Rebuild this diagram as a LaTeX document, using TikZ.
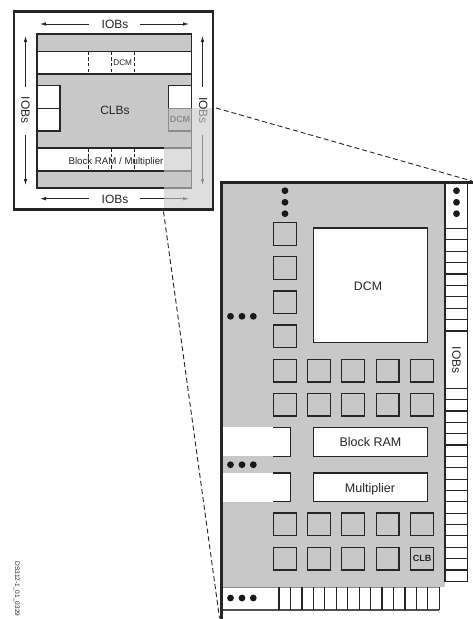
\documentclass[tikz,border=0pt]{standalone}
\usepackage{fontspec}
\setmainfont{Liberation Sans}
\usetikzlibrary{arrows.meta}
\definecolor{core}{HTML}{C8C8C8}
\definecolor{fade}{HTML}{DEDEDE}
\definecolor{ink}{HTML}{262626}
\definecolor{faded}{HTML}{8C8C8C}
\tikzset{
  txt/.style={inner sep=0pt,text=ink,font=\fontsize{#1}{#1}\selectfont},
  txt/.default=12,
  heavy/.style={draw=ink,line width=2.8pt},
  edge/.style={draw=ink,line width=1.2pt},
  fadeedge/.style={draw=faded,line width=1.2pt},
  lightbox/.style={edge,fill=white},
  clbbox/.style={draw=ink,line width=1.2pt,fill=core,inner sep=0pt,minimum size=22.7pt},
  dotmark/.style={fill=black!90,circle,inner sep=0pt,minimum size=6.8pt},
  arrowdark/.style={draw=ink,line width=.8pt,-{Latex[length=6pt,width=3.6pt]}},
  arrowfade/.style={draw=faded,line width=.8pt,-{Latex[length=6pt,width=3.6pt]}},
  zoomline/.style={draw=ink,line width=.9pt,dash pattern=on 5pt off 3pt},
}
\begin{document}
\begin{tikzpicture}[x=1pt,y=-1pt]
\useasboundingbox (0,0) rectangle (473,619);
\fill[white] (0,0) rectangle (473,619);
% --- overview ---
\fill[white] (14,11.5) rectangle (214,210.5);
\path[fill=core,edge] (37,34) rectangle (191.5,188);
\path[lightbox] (37,51.5) rectangle (191.5,74);
\path[lightbox] (37,148) rectangle (191.5,171);
\path[lightbox] (37,85.5) rectangle (60,108.5);
\path[lightbox] (37,108.5) rectangle (60,131);
\path[lightbox] (168.5,85.5) rectangle (191.5,108.5);
\foreach \x in {88.5,111.5,134}{
  \draw[ink,line width=1pt,dash pattern=on 3.5pt off 2.2pt] (\x,51.5) -- (\x,74);
  \draw[ink,line width=1pt,dash pattern=on 3.5pt off 2.2pt] (\x,148) -- (\x,171);
}
% highlighted, faded corner
\fill[fade] (191.5,107.5) rectangle (213,209.5);
\fill[fade] (164,188) rectangle (213,209.5);
\fill[fade] (164,148) rectangle (191.5,171);
\path[fill=core,fadeedge] (168.5,108.5) rectangle (191.5,131);
\draw[fadeedge] (191.5,108) -- (191.5,188.5) (164,188) -- (191.5,188)
  (164,148) -- (191.5,148) (164,171) -- (191.5,171);
\draw[heavy,line join=miter] (164,209.7) -- (14,209.7) -- (14,11.5) -- (213,11.5) -- (213,209.7) -- (164,209.7);
% labels
\node[txt] (iobtop) at (115,24) {IOBs};
\node[txt] (iobbot) at (115,199) {IOBs};
\node[txt,rotate=-90] (iobleft) at (25.5,110) {IOBs};
\node[txt,rotate=-90] (iobright) at (203.3,110.5) {IO\textcolor{faded}{Bs}};
\node[txt] (clbs) at (115,110) {CLBs};
\node[txt=8.2] (dcmtop) at (122.7,63) {DCM};
\node[txt=9,text=faded,font=\fontsize{9}{9}\selectfont\bfseries] (dcmfaded) at (180,119.5) {DCM};
\node[txt=9.7] (brammult) at (116,161.5) {Block RAM / Multiplier};
% arrows
\coordinate (a1) at (89,24); \coordinate (a2) at (40,24);
\coordinate (a3) at (140,24); \coordinate (a4) at (189,24);
\coordinate (b1) at (89,198.7); \coordinate (b2) at (40,198.7);
\coordinate (b3) at (140,198.7); \coordinate (b3m) at (164,198.7); \coordinate (b4) at (189,198.7);
\coordinate (c1) at (25.5,87); \coordinate (c2) at (25.5,36);
\coordinate (c3) at (25.5,135); \coordinate (c4) at (25.5,185);
\coordinate (d1) at (202.5,87); \coordinate (d2) at (202.5,36);
\coordinate (d3) at (202.5,135); \coordinate (d4) at (202.5,185);
\draw[arrowdark] (a1) -- (a2);
\draw[arrowdark] (a3) -- (a4);
\draw[arrowdark] (b1) -- (b2);
\draw[draw=ink,line width=.8pt] (b3) -- (b3m);
\draw[arrowfade] (b3m) -- (b4);
\draw[arrowdark] (c1) -- (c2);
\draw[arrowdark] (c3) -- (c4);
\draw[arrowdark] (d1) -- (d2);
\draw[arrowfade] (d3) -- (d4);
% zoom lines
\coordinate (z1) at (216,108); \coordinate (z2) at (472,181);
\coordinate (z3) at (163.5,211.5); \coordinate (z4) at (219.5,618);
\draw[zoomline] (z1) -- (z2);
\draw[zoomline] (z3) -- (z4);
% --- detail ---
\fill[core] (222,182.5) rectangle (444.5,586.8);
% right IOB column
\path[lightbox] (445,182.5) rectangle (467.5,581.3);
\foreach \i in {0,...,9}{ \draw[edge] (445,{228.3+\i*11.41}) -- (467.5,{228.3+\i*11.41}); }
\foreach \i in {0,...,17}{ \draw[edge] (445,{388.3+\i*11.35}) -- (467.5,{388.3+\i*11.35}); }
\node[txt,rotate=-90] (iobdetail) at (456.5,360) {IOBs};
% bottom IOB row
\fill[white] (223,587.3) rectangle (439.3,610);
\draw[fadeedge] (223,587.3) -- (439.3,587.3);
\draw[edge,draw=ink!80] (223,610) -- (439.3,610);
\foreach \i in {0,...,14}{ \draw[edge] ({279+\i*11.45},587.3) -- ({279+\i*11.45},610); }
% squares
\foreach \yy/\rr in {222.3/a,256.3/b,290.7/c,324.7/d}{
  \node[clbbox] (sq\rr) at (284.85,\yy+11.6) {};
}
\foreach \yy/\rr in {359/e,393/f,512.7/g,547/h}{
  \foreach \xx/\cc in {273/1,307.3/2,341.3/3,375.7/4,410.3/5}{
    \node[clbbox] (sq\rr\cc) at (\xx+11.85,\yy+11.6) {};
  }
}
\node[txt=9,font=\fontsize{9}{9}\selectfont\bfseries] (clblabel) at (sqh5) {CLB};
% DCM, RAM, multiplier
\path[lightbox] (313.3,228) rectangle (427.7,342.3);
\node[txt=12.3] (dcmdetail) at (368,286.7) {DCM};
\path[lightbox] (313.3,427.3) rectangle (427.7,456.3);
\node[txt=12.5] (bramlabel) at (370.5,441.7) {Block RAM};
\path[lightbox] (313.3,473) rectangle (427.7,501.7);
\node[txt=12.5] (multlabel) at (370,489) {Multiplier};
% partial blocks on the left
\fill[white] (223,427.3) rectangle (290.6,456.3);
\fill[white] (223,473) rectangle (290.6,501.7);
\draw[edge] (273,427.3) -- (290.6,427.3) -- (290.6,456.3) -- (273,456.3);
\draw[edge] (273,473) -- (290.6,473) -- (290.6,501.7) -- (273,501.7);
% heavy edges
\draw[heavy] (221.6,618.5) -- (221.6,182.5) -- (472.5,182.5);
% dots
\foreach \yy/\n in {190.7/a,202.3/b,213.7/c}{
  \node[dotmark] (dotv\n) at (285,\yy) {};
  \node[dotmark] (dotr\n) at (456.5,\yy) {};
}
\foreach \xx/\n in {230.5/a,242/b,253.3/c}{
  \node[dotmark] (doth\n) at (\xx,316.3) {};
  \node[dotmark] (dotm\n) at (\xx,464.7) {};
  \node[dotmark] (dotb\n) at (\xx,598) {};
}
% figure id
\node[txt=6.5,rotate=-90] (figid) at (16.7,589) {DS312-1\_01\_0329};
\end{tikzpicture}
\end{document}
